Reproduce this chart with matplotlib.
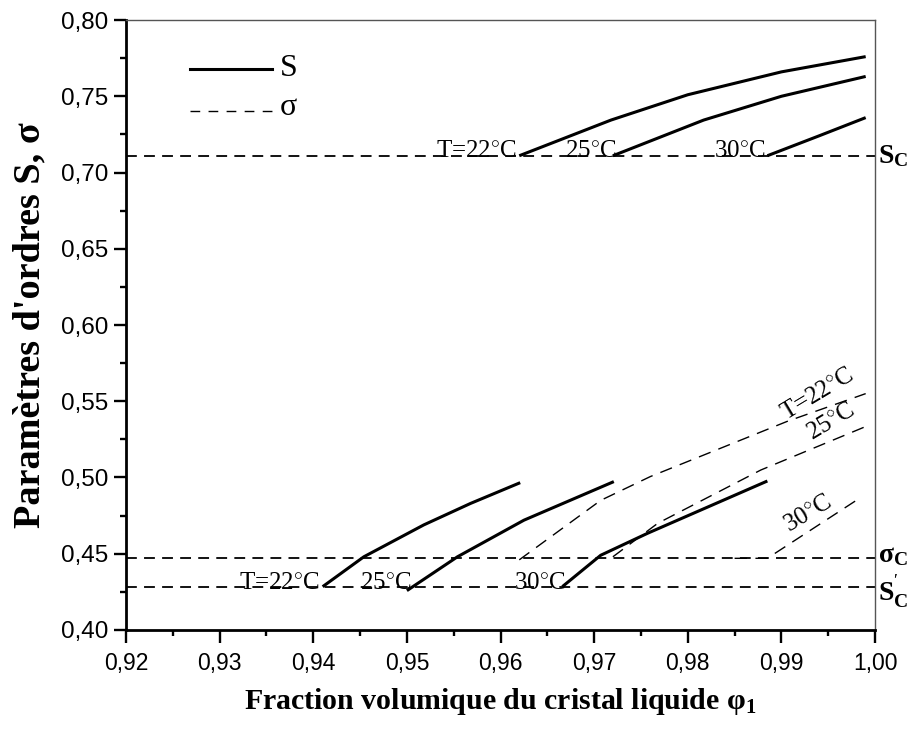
import matplotlib
matplotlib.use("Agg")
import matplotlib.pyplot as plt
from matplotlib.ticker import MultipleLocator, FuncFormatter

plt.rcParams['mathtext.fontset'] = 'custom'
plt.rcParams['mathtext.rm'] = 'Liberation Serif'
plt.rcParams['mathtext.bf'] = 'Liberation Serif:bold'
plt.rcParams['mathtext.it'] = 'Liberation Serif:italic'

# Critical order-parameter levels
S_c = 0.711
sigma_c = 0.447
S_c_prime = 0.428

# Order parameter S, upper branch
phi_S_up_22 = [0.962, 0.9718, 0.980, 0.990, 0.999]
S_up_22 = [0.711, 0.7344, 0.751, 0.766, 0.776]
phi_S_up_25 = [0.972, 0.9817, 0.990, 0.999]
S_up_25 = [0.711, 0.7344, 0.750, 0.763]
phi_S_up_30 = [0.9885, 0.9940, 0.999]
S_up_30 = [0.711, 0.724, 0.736]

# Order parameter S, lower branch
phi_S_lo_22 = [0.941, 0.9454, 0.9518, 0.9568, 0.9621]
S_lo_22 = [0.4284, 0.448, 0.4689, 0.483, 0.4966]
phi_S_lo_25 = [0.950, 0.9554, 0.9625, 0.9721]
S_lo_25 = [0.4258, 0.448, 0.472, 0.4973]
phi_S_lo_30 = [0.9666, 0.9707, 0.9757, 0.9885]
S_lo_30 = [0.4284, 0.449, 0.4634, 0.4977]

# Order parameter sigma
phi_sig_22 = [0.962, 0.9707, 0.976, 0.9907, 0.999]
sig_22 = [0.446, 0.485, 0.5006, 0.537, 0.555]
phi_sig_25 = [0.972, 0.9768, 0.9878, 0.9988]
sig_25 = [0.448, 0.470, 0.5049, 0.5329]
phi_sig_30 = [0.985, 0.9885, 0.9986]
sig_30 = [0.447, 0.447, 0.4874]

fig = plt.figure(figsize=(9.08, 7.31), dpi=100)
ax = fig.add_axes([0.1388, 0.1382, 0.8249, 0.8344])

lw_s = 2.2
lw_d = 1.0
dash_curve = (0, (9, 6))
dash_level = (0, (6, 4))

for x, y in [(phi_S_up_22, S_up_22), (phi_S_up_25, S_up_25), (phi_S_up_30, S_up_30),
             (phi_S_lo_22, S_lo_22), (phi_S_lo_25, S_lo_25), (phi_S_lo_30, S_lo_30)]:
    ax.plot(x, y, color='black', lw=lw_s, solid_capstyle='butt')

for x, y in [(phi_sig_22, sig_22), (phi_sig_25, sig_25), (phi_sig_30, sig_30)]:
    ax.plot(x, y, color='black', lw=lw_d, ls=dash_curve)

for lvl in (S_c, sigma_c, S_c_prime):
    ax.axhline(lvl, color='black', lw=1.3, ls=dash_level)

ax.set_xlim(0.92, 1.00)
ax.set_ylim(0.40, 0.80)
ax.xaxis.set_major_locator(MultipleLocator(0.01))
ax.xaxis.set_minor_locator(MultipleLocator(0.005))
ax.yaxis.set_major_locator(MultipleLocator(0.05))
ax.yaxis.set_minor_locator(MultipleLocator(0.025))
fmt = FuncFormatter(lambda v, p: f"{v:.2f}".replace('.', ','))
ax.xaxis.set_major_formatter(fmt)
ax.yaxis.set_major_formatter(fmt)
ax.tick_params(which='both', direction='out', top=False, right=False, width=1.7)
ax.tick_params(which='major', length=9)
ax.tick_params(which='minor', length=4)
ax.tick_params(axis='x', labelsize=16.5, pad=7)
ax.tick_params(axis='y', labelsize=17.5, pad=4)
for lab in ax.get_xticklabels() + ax.get_yticklabels():
    lab.set_family('Liberation Sans')
for side in ('left', 'bottom'):
    ax.spines[side].set_linewidth(2)
for side in ('top', 'right'):
    ax.spines[side].set_linewidth(1)
    ax.spines[side].set_color('#555555')

serif = 'Liberation Serif'
ax.set_ylabel("Paramètres d'ordres S, σ", family=serif, fontweight='bold', fontsize=27.5)
ax.yaxis.label.set_va('center')
ax.yaxis.set_label_coords(-0.128, 0.5)
ax.set_xlabel("Fraction volumique du cristal liquide φ$_\\mathregular{1}$",
              family=serif, fontweight='bold', fontsize=21.5)
ax.xaxis.label.set_va('center')
ax.xaxis.set_label_coords(0.5, -0.118)

deg = "$^{\\circ}$"
tk = dict(family=serif, fontsize=18)
# Temperature labels on the upper S branch
ax.text(0.9618, S_c - 0.001, "T=22" + deg + "C", ha='right', va='baseline', **tk)
ax.text(0.9724, S_c - 0.001, "25" + deg + "C", ha='right', va='baseline', **tk)
ax.text(0.9883, S_c - 0.001, "30" + deg + "C", ha='right', va='baseline', **tk)
# Temperature labels on the lower S branch
ax.text(0.9407, S_c_prime - 0.001, "T=22" + deg + "C", ha='right', va='baseline', **tk)
ax.text(0.9505, S_c_prime - 0.001, "25" + deg + "C", ha='right', va='baseline', **tk)
ax.text(0.9670, S_c_prime - 0.001, "30" + deg + "C", ha='right', va='baseline', **tk)
# Temperature labels on the sigma curves
ax.text(0.9939, 0.5548, "T=22" + deg + "C", ha='center', va='center', rotation=31, **tk)
ax.text(0.9953, 0.5366, "25" + deg + "C", ha='center', va='center', rotation=31, **tk)
ax.text(0.9928, 0.4765, "30" + deg + "C", ha='center', va='center', rotation=31, **tk)

# Critical levels annotated beyond the right spine
ax.text(1.0003, S_c, "S$_\\mathregular{C}$", ha='left', va='center', family=serif,
        fontweight='bold', fontsize=20)
ax.text(1.0003, sigma_c + 0.002, "σ$_\\mathregular{C}$", ha='left', va='center', family=serif,
        fontweight='bold', fontsize=20)
ax.text(1.0003, S_c_prime - 0.003, "S$^\\mathregular{'}_\\mathregular{C}$", ha='left',
        va='center', family=serif, fontweight='bold', fontsize=20)

# Legend
ax.plot([0.92685, 0.93561], [0.7679, 0.7679], color='black', lw=lw_s)
ax.text(0.93647, 0.7679, "S", ha='left', va='center', family=serif, fontsize=23)
ax.plot([0.92685, 0.93561], [0.7403, 0.7403], color='black', lw=lw_d, ls=(0, (7, 6)))
ax.text(0.93647, 0.7425, "σ", ha='left', va='center', family=serif, fontsize=23)

fig.savefig("out.png", dpi=100)
